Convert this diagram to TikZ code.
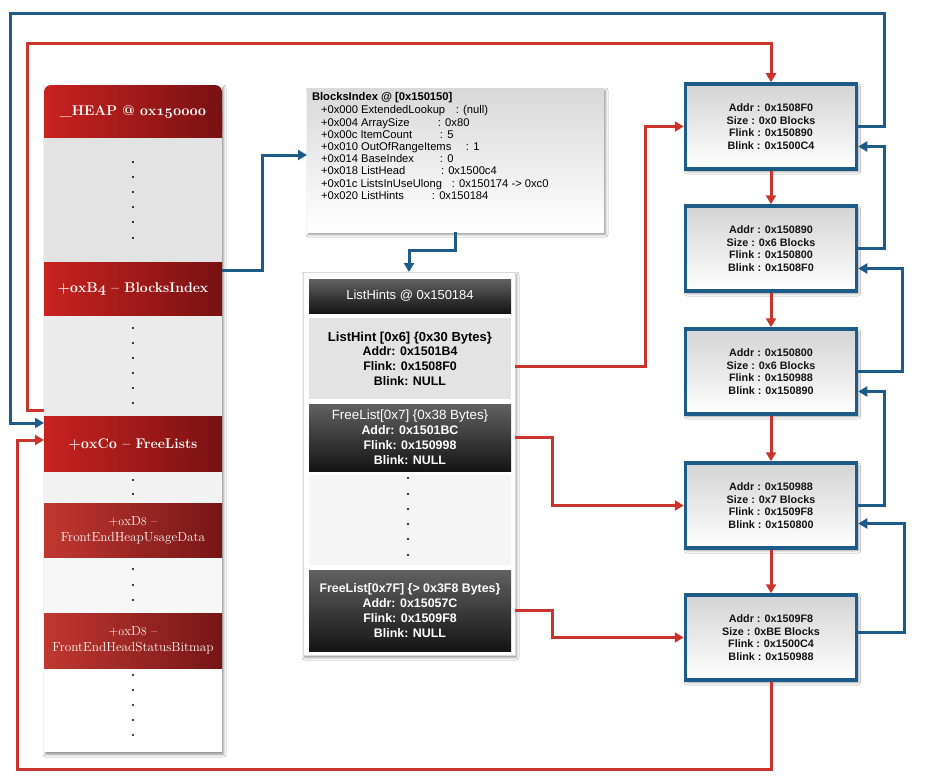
\documentclass[tikz,border=0pt]{standalone}
\usepackage{fontspec}
\setsansfont{Liberation Sans}
\usetikzlibrary{arrows.meta,shadows.blur,calc}

\definecolor{linkblue}{RGB}{29,91,137}
\definecolor{linkred}{RGB}{202,52,44}
\definecolor{heapred}{RGB}{200,34,31}
\definecolor{heapdark}{RGB}{120,18,18}
\definecolor{softred}{RGB}{192,56,48}
\definecolor{softdark}{RGB}{118,22,22}

% old-style figures taken from the math italic font
\newcommand\osfig[1]{\ensuremath{\mathnormal{#1}}}

\begin{document}
\begin{tikzpicture}[x=1pt,y=-1pt,
  every node/.style={inner sep=0pt,outer sep=0pt},
  softshadow/.style={blur shadow={shadow xshift=1.5pt,shadow yshift=-2.5pt,shadow blur radius=2.5pt,shadow opacity=45}},
  link/.style={line width=3pt,-{Triangle[length=9pt,width=10pt]}},
  bluelink/.style={link,draw=linkblue},
  redlink/.style={link,draw=linkred},
  heapsec/.style={minimum width=178pt,left color=heapred,right color=heapdark,text=white,align=center,font=\fontsize{14}{16}\selectfont\bfseries\boldmath},
  heapsoft/.style={heapsec,left color=softred,right color=softdark,text=white!96!red,font=\fontsize{13.2}{16}\selectfont},
  bibox/.style={top color=black!15,bottom color=white,softshadow},
  bitext/.style={align=left,font=\sffamily\fontsize{11.2}{12.2}\selectfont,text=black},
  panel/.style={fill=white,draw=black!15,softshadow},
  darkbox/.style={minimum width=202pt,top color=black!62,bottom color=black!92,text=white,align=center,font=\sffamily\bfseries\fontsize{12.4}{15}\selectfont},
  lightbox/.style={minimum width=202pt,fill=black!11,text=black,align=center,font=\sffamily\bfseries\fontsize{12.4}{14.7}\selectfont},
  chunk/.style={draw=linkblue,line width=3.5pt,outer sep=1.75pt,top color=black!17,bottom color=white,minimum width=171pt,minimum height=85pt,align=center,text=black!92,font=\sffamily\bfseries\fontsize{10.8}{12.7}\selectfont,softshadow},
]
\useasboundingbox (0,0) rectangle (926,784);
\fill[white] (0,0) rectangle (926,784);

% ---------- _HEAP structure ----------
\path[fill=white,softshadow] (44,85) rectangle (222,752);
\fill[left color=heapred,right color=heapdark] (44,110) rectangle (222,138);
\node[heapsec,rounded corners=7pt,minimum height=53pt] (hh) at (133,111.5) {\_HEAP @ \osfig{0}x\osfig{150000}};
\fill[black!11] (44,138) rectangle (222,262);
\foreach \y in {162,177,192,207,222,238} \fill (133,\y) circle (1.2pt);
\node[heapsec,minimum height=54pt] (hbi) at (133,289) {+\osfig{0}xB\osfig{4} -- BlocksIndex};
\fill[black!8] (44,316) rectangle (222,416);
\foreach \y in {328,343,358,373,388,403} \fill (133,\y) circle (1.2pt);
\node[heapsec,minimum height=56pt] (hfl) at (133,444) {+\osfig{0}xC\osfig{0} -- FreeLists};
\fill[black!5] (44,472) rectangle (222,503);
\foreach \y in {480,494} \fill (133,\y) circle (1.2pt);
\node[heapsoft,minimum height=55pt] (hfe) at (133,530.5) {+\osfig{0}xD\osfig{8} --\\FrontEndHeapUsageData};
\fill[black!3] (44,558) rectangle (222,613);
\foreach \y in {569,585,600} \fill (133,\y) circle (1.2pt);
\node[heapsoft,minimum height=55pt] (hfs) at (133,640.5) {+\osfig{0}xD\osfig{8} --\\FrontEndHeadStatusBitmap};
\foreach \y in {675,690,705,720,735} \fill (133,\y) circle (1.2pt);

% ---------- BlocksIndex ----------
\node[bibox,minimum width=297pt,minimum height=144pt] (bib) at (455.5,160) {};
\node[bitext,anchor=north west] (bit) at (312,92) {\textbf{BlocksIndex @ [0x150150]}\\[1.5pt]
\hspace*{9pt}\makebox[135pt][l]{+0x000 ExtendedLookup}: (null)\\
\hspace*{9pt}\makebox[117pt][l]{+0x004 ArraySize}: 0x80\\
\hspace*{9pt}\makebox[119pt][l]{+0x00c ItemCount}: 5\\
\hspace*{9pt}\makebox[145pt][l]{+0x010 OutOfRangeItems}: 1\\
\hspace*{9pt}\makebox[119pt][l]{+0x014 BaseIndex}: 0\\
\hspace*{9pt}\makebox[120pt][l]{+0x018 ListHead}: 0x1500c4\\
\hspace*{9pt}\makebox[131pt][l]{+0x01c ListsInUseUlong}: 0x150174 -> 0xc0\\
\hspace*{9pt}\makebox[111pt][l]{+0x020 ListHints}: 0x150184};

% ---------- ListHints array ----------
\node[panel,minimum width=212pt,minimum height=383pt] (lhp) at (409,463.5) {};
\node[darkbox,minimum height=34pt,font=\sffamily\fontsize{13}{15}\selectfont] (lhh) at (410,296) {ListHints @ 0x150184};
\node[lightbox,minimum height=81pt] (lh1) at (410,358.5) {{\fontsize{13}{14.7}\selectfont ListHint [0x6] \{0x30 Bytes\}}\\Addr: 0x1501B4\\Flink: 0x1508F0\\Blink: NULL};
\node[darkbox,minimum height=67pt] (lh2) at (410,437.5) {{\mdseries\fontsize{13.4}{15}\selectfont FreeList[0x7] \{0x38 Bytes\}}\\Addr: 0x1501BC\\Flink: 0x150998\\Blink: NULL};
\fill[black!4] (309,475) rectangle (511,565);
\foreach \y in {478,494,509,524,539,555} \fill (408,\y) circle (1.1pt);
\node[darkbox,minimum height=81pt] (lh3) at (410,610.5) {FreeList[0x7F] \{> 0x3F8 Bytes\}\\Addr: 0x15057C\\Flink: 0x1509F8\\Blink: NULL};

% ---------- free chunks ----------
\node[chunk] (c1) at (771,126.5) {Addr : 0x1508F0\\Size : 0x0 Blocks\\Flink : 0x150890\\Blink : 0x1500C4};
\node[chunk] (c2) at (771,248.5) {Addr : 0x150890\\Size : 0x6 Blocks\\Flink : 0x150800\\Blink : 0x1508F0};
\node[chunk] (c3) at (771,371.5) {Addr : 0x150800\\Size : 0x6 Blocks\\Flink : 0x150988\\Blink : 0x150890};
\node[chunk] (c4) at (771,505.5) {Addr : 0x150988\\Size : 0x7 Blocks\\Flink : 0x1509F8\\Blink : 0x150800};
\node[chunk] (c5) at (771,637.5) {Addr : 0x1509F8\\Size : 0xBE Blocks\\Flink : 0x1500C4\\Blink : 0x150988};

% ---------- links ----------
\coordinate (blueTurn) at (10,14);
\coordinate (redTurn) at (27,44);
\coordinate (redBottom) at (17,769);

\draw[bluelink] ([yshift=19pt]hbi.east) -- ++(40,0) |- ([yshift=5pt]bib.west);
\draw[bluelink] (bib.south) -- ++(0,18) -| (lhp.north);

\foreach \a/\b in {c1/c2,c2/c3,c3/c4,c4/c5} \draw[redlink] (\a.south) -- (\b.north);

\draw[bluelink] (c2.east) -- ++(26,0) |- ([yshift=-20pt]c1.east);
\draw[bluelink] (c3.east) -- ++(44,0) |- ([yshift=-20pt]c2.east);
\draw[bluelink] (c4.east) -- ++(26,0) |- ([yshift=-20pt]c3.east);
\draw[bluelink] ([yshift=5pt]c5.east) -- ++(46,0) |- ([yshift=-18pt]c4.east);

\draw[bluelink] (c1.east) -- ++(26,0) |- (blueTurn) |- ([yshift=-7pt]hfl.north west);
\draw[redlink] ([yshift=6pt]hfl.north west) -| (redTurn) -| (c1.north);
\draw[redlink] (c5.south) |- (redBottom) |- ([yshift=4pt]hfl.west);

\draw[redlink] ($(lh1.east -| lhp.east)+(0,8)$) -- ++(130,0) |- (c1.west);
\draw[redlink] (lh2.east -| lhp.east) -- ++(37,0) |- (c4.west);
\draw[redlink] (lh3.east -| lhp.east) -- ++(37,0) |- (c5.west);
\end{tikzpicture}
\end{document}
